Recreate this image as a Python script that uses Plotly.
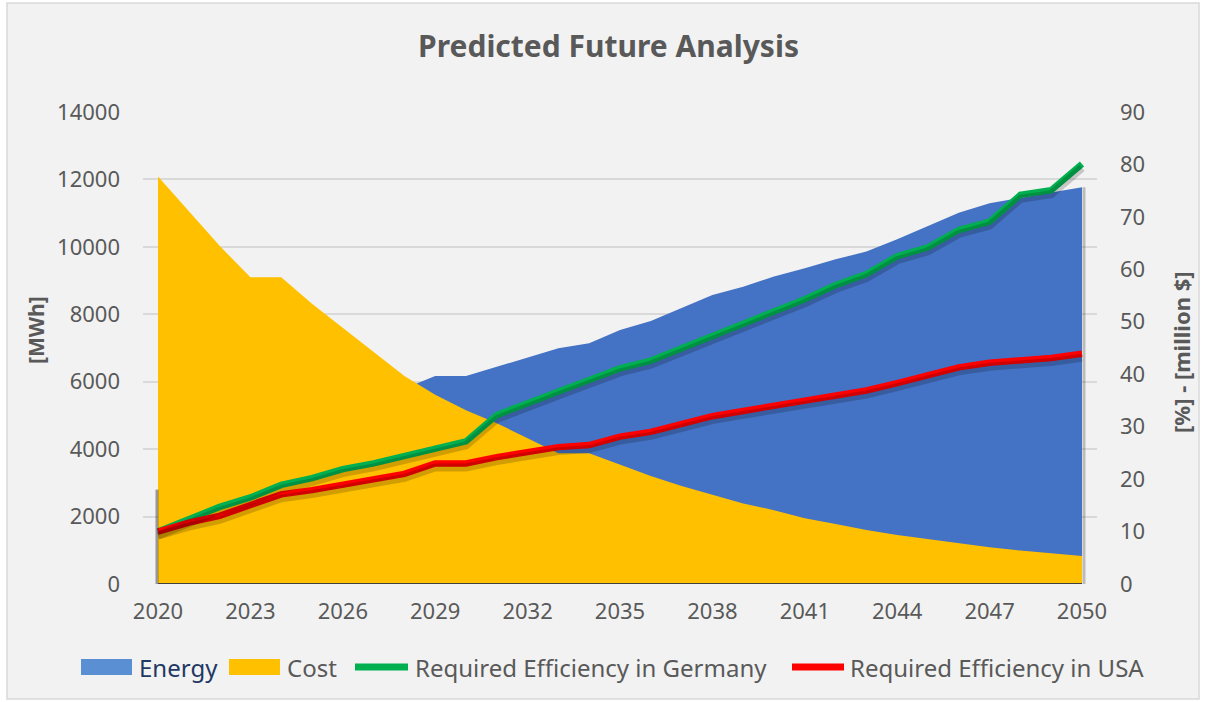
import plotly.graph_objects as go

# ---- data -------------------------------------------------------------
years = list(range(2020, 2051))

energy_mwh = [2800, 3200, 3600, 3950, 4350, 4700, 5050, 5400, 5800, 6170,
              6170, 6450, 6725, 6990, 7140, 7535, 7800, 8180, 8575, 8820,
              9120, 9365, 9630, 9860, 10225, 10620, 11015, 11295, 11445, 11610,
              11770]

cost_mwh_scale = [12085, 11045, 10030, 9100, 9100, 8310, 7590, 6890, 6170, 5610,
                  5150, 4770, 4320, 3880, 3880, 3530, 3200, 2910, 2640, 2390,
                  2190, 1950, 1780, 1600, 1450, 1325, 1205, 1090, 990, 910,
                  830]

eff_germany = [10.0, 12.3, 14.7, 16.5, 18.9, 20.2, 21.9, 23.0, 24.4, 26.1,
               27.2, 32.2, 34.6, 36.7, 38.9, 41.1, 42.6, 44.9, 47.2, 49.6,
               52.0, 54.3, 57.0, 59.1, 62.5, 64.2, 67.5, 69.1, 74.2, 75.1,
               80.1]

eff_usa = [10.0, 11.7, 13.0, 15.1, 17.1, 17.9, 18.9, 19.7, 21.0, 23.0,
           23.0, 24.2, 25.0, 26.1, 26.5, 28.1, 29.0, 30.6, 32.0, 33.0,
           34.0, 35.0, 36.0, 36.9, 38.3, 39.9, 41.3, 42.2, 42.6, 43.1,
           43.9]

left_ticks = [0, 2000, 4000, 6000, 8000, 10000, 12000, 14000]
right_ticks = [0, 10, 20, 30, 40, 50, 60, 70, 80, 90]
x_ticks = years[::3]

series_names = ["Energy", "Cost", "Required Efficiency in Germany",
                "Required Efficiency in USA"]

# ---- styling ----------------------------------------------------------
FONT = "Noto Sans"
GREY = "#595959"
BLUE, YELLOW, GREEN, RED = "#4472C4", "#FFC000", "#00B050", "#FF0000"
W, H = 1205, 702
PL, PR, PT, PB = 143, 1097, 112, 584   # plot area in pixels
Y2_MAX = 90
SHADOW_DY = 4                          # shadow drop under the lines, px


def px_to_paper(px, py):
    return (px - PL) / (PR - PL), (PB - py) / (PB - PT)


def px_x(px):
    return px_to_paper(px, 0)[0]


def px_y(py):
    return px_to_paper(0, py)[1]


fig = go.Figure()

fig.add_trace(go.Scatter(
    x=years, y=energy_mwh, name=series_names[0],
    mode="lines", line=dict(width=0, color=BLUE),
    fill="tozeroy", fillcolor=BLUE, yaxis="y",
))
fig.add_trace(go.Scatter(
    x=years, y=cost_mwh_scale, name=series_names[1],
    mode="lines", line=dict(width=0, color=YELLOW),
    fill="tozeroy", fillcolor=YELLOW, yaxis="y",
))

# soft drop shadows for the efficiency lines (on a slightly shifted hidden axis)
for series in (eff_germany, eff_usa):
    fig.add_trace(go.Scatter(
        x=years, y=series, mode="lines", showlegend=False, hoverinfo="skip",
        line=dict(width=8, color="rgba(0,0,0,0.18)"), yaxis="y3",
    ))

fig.add_trace(go.Scatter(
    x=years, y=eff_germany, name=series_names[2],
    mode="lines", line=dict(width=6.5, color=GREEN), yaxis="y2",
))
fig.add_trace(go.Scatter(
    x=years, y=eff_usa, name=series_names[3],
    mode="lines", line=dict(width=6.5, color=RED), yaxis="y2",
))

shapes = [
    # chart frame
    dict(type="rect", xref="paper", yref="paper", x0=px_x(7), x1=px_x(1199),
         y0=px_y(699), y1=px_y(3),
         fillcolor="#F2F2F2", line=dict(color="#D9D9D9", width=1.5), layer="below"),
    # shaded edges of the energy area
    dict(type="line", xref="x", yref="y", xsizemode="pixel", xanchor=years[0],
         x0=-1, x1=-1, y0=0, y1=energy_mwh[0],
         line=dict(color="rgba(40,40,40,0.45)", width=3), layer="above"),
    dict(type="line", xref="x", yref="y", xsizemode="pixel", xanchor=years[-1],
         x0=2, x1=2, y0=0, y1=energy_mwh[-1],
         line=dict(color="rgba(60,60,60,0.3)", width=3), layer="above"),
    # baseline under the areas
    dict(type="line", xref="x", yref="y", x0=years[0], x1=years[-1], y0=0, y1=0,
         line=dict(color="#404040", width=2), layer="above"),
]

# legend: swatches + labels laid out in one row under the axis
LEG_Y = 667
legend_items = [
    # (kind, colour, swatch x0, swatch x1, label x, label colour)
    ("box", "#5A8FD4", 81, 132, 137, "#1F3864"),
    ("box", YELLOW, 229, 280, 285, GREY),
    ("line", GREEN, 355, 408, 413, GREY),
    ("line", RED, 792, 844, 848, GREY),
]
annotations = []
for name, (kind, col, sx0, sx1, tx, tcol) in zip(series_names, legend_items):
    if kind == "box":
        shapes.append(dict(type="rect", xref="paper", yref="paper",
                           x0=px_x(sx0), x1=px_x(sx1),
                           y0=px_y(LEG_Y + 8), y1=px_y(LEG_Y - 8),
                           fillcolor=col, line=dict(width=0), layer="above"))
    else:
        shapes.append(dict(type="line", xref="paper", yref="paper",
                           x0=px_x(sx0), x1=px_x(sx1),
                           y0=px_y(LEG_Y), y1=px_y(LEG_Y),
                           line=dict(color=col, width=7), layer="above"))
    annotations.append(dict(text=name, x=px_x(tx), y=px_y(LEG_Y), xref="paper",
                            yref="paper", showarrow=False, xanchor="left",
                            yanchor="middle",
                            font=dict(family=FONT, size=24, color=tcol)))

annotations += [
    dict(text="<b>[MWh]</b>", x=px_x(36), y=px_y(330),
         xref="paper", yref="paper", showarrow=False, textangle=-90,
         xanchor="center", yanchor="middle",
         font=dict(family=FONT, size=21, color=GREY)),
    dict(text="<b>[%] - [million $]</b>", x=px_x(1181), y=px_y(352),
         xref="paper", yref="paper", showarrow=False,
         textangle=-90, xanchor="center", yanchor="middle",
         font=dict(family=FONT, size=22, color=GREY)),
]

half = 15 / ((PR - PL - 30) / (years[-1] - years[0]))
dy = SHADOW_DY * Y2_MAX / (PB - PT)

fig.update_layout(
    width=W, height=H,
    margin=dict(l=PL, r=W - PR, t=PT, b=H - PB, pad=0, autoexpand=False),
    paper_bgcolor="white",
    plot_bgcolor="rgba(0,0,0,0)",
    font=dict(family=FONT, color=GREY, size=22),
    title=dict(text="<b>Predicted Future Analysis</b>", x=0.505, xanchor="center",
               y=1 - 46 / H, yanchor="middle",
               font=dict(family=FONT, size=30, color=GREY)),
    shapes=shapes,
    annotations=annotations,
    showlegend=False,
    xaxis=dict(range=[years[0] - half, years[-1] + half], tickmode="array",
               tickvals=x_ticks, ticktext=[str(y) for y in x_ticks],
               showgrid=False, zeroline=False, showline=False, ticks="",
               tickfont=dict(size=22, color=GREY), ticklabelstandoff=12),
    yaxis=dict(range=[0, 14000], tickmode="array", tickvals=left_ticks,
               ticktext=[str(v) for v in left_ticks],
               showgrid=True, gridcolor="#D9D9D9", gridwidth=1.5,
               zeroline=False, showline=False, ticks="",
               tickfont=dict(size=22, color=GREY), ticklabelstandoff=22),
    yaxis2=dict(range=[0, Y2_MAX], tickmode="array", tickvals=right_ticks,
                ticktext=[str(v) for v in right_ticks],
                overlaying="y", side="right", showgrid=False, zeroline=False,
                showline=False, ticks="",
                tickfont=dict(size=22, color=GREY), ticklabelstandoff=22),
    yaxis3=dict(range=[dy, Y2_MAX + dy], overlaying="y", visible=False),
)

fig.write_html("out.html")
